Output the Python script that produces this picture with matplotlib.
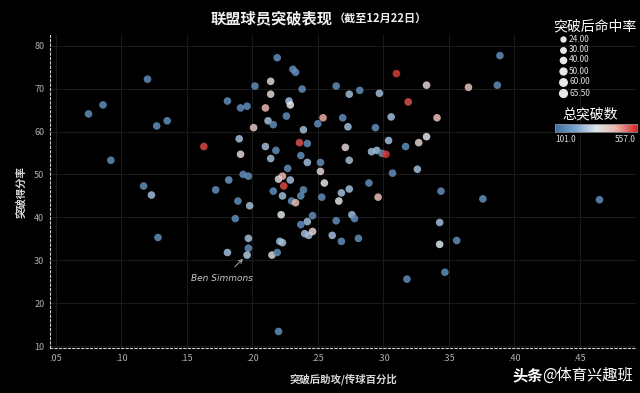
import numpy as np
import matplotlib
matplotlib.use('Agg')
import matplotlib.pyplot as plt
from matplotlib.colors import LinearSegmentedColormap, Normalize
from matplotlib.ticker import FuncFormatter

plt.rcParams['font.family']=['Noto Sans CJK SC','DejaVu Sans']

# 突破后助攻/传球百分比
ast_pct=[0.075,0.086,0.120,0.092,0.127,0.135,0.163,0.117,0.123,0.128,
         0.219,0.231,0.233,0.214,0.214,0.202,0.181,0.191,0.196,0.210,
         0.228,0.229,0.226,0.212,0.216,0.201,0.190,0.210,0.218,0.191,
         0.214,0.193,0.197,0.182,0.172,0.216,0.223,0.189,0.198,0.187,
         0.197,0.221,0.197,0.181,0.196,0.215,0.219,0.220,0.389,0.310,
         0.333,0.365,0.387,0.264,0.274,0.282,0.297,0.238,0.319,0.254,
         0.269,0.250,0.273,0.306,0.294,0.341,0.239,0.333,0.327,0.304,
         0.317,0.236,0.242,0.271,0.291,0.295,0.299,0.302,0.274,0.252,
         0.242,0.237,0.252,0.326,0.307,0.227,0.223,0.220,0.229,0.224,
         0.255,0.289,0.274,0.268,0.239,0.237,0.253,0.296,0.266,0.230,
         0.233,0.344,0.376,0.465,0.343,0.343,0.356,0.318,0.347,0.246,
         0.242,0.237,0.264,0.276,0.278,0.240,0.243,0.246,0.261,0.268,
         0.281,0.222,0.223]
# 突破得分率
pts_pct=[64.1,66.2,72.2,53.3,61.3,62.5,56.5,47.3,45.2,35.3,
         77.2,74.5,73.8,71.7,68.7,70.6,67.1,65.5,65.9,65.5,
         67.1,66.2,63.6,62.5,61.6,60.9,58.3,56.5,55.6,54.7,
         53.7,50.0,49.6,48.7,46.4,46.1,45.0,43.8,42.7,39.7,
         35.1,34.4,32.8,31.8,31.2,31.2,31.8,13.4,77.7,73.5,
         70.8,70.3,70.8,70.6,68.7,69.6,68.9,69.9,66.9,63.2,
         63.2,61.8,61.1,63.4,60.9,63.2,60.4,58.8,57.4,57.9,
         56.5,57.4,57.2,56.3,55.3,55.6,54.9,54.7,53.3,52.8,
         52.8,54.4,50.7,51.2,50.3,51.4,49.6,48.9,48.7,47.3,
         48.0,48.0,46.6,45.7,46.4,45.0,44.7,44.7,43.8,43.8,
         43.4,46.1,44.3,44.1,38.8,33.7,34.6,25.6,27.2,40.4,
         39.0,38.3,39.2,40.6,39.7,36.2,35.8,36.7,35.8,34.4,
         35.1,40.6,34.1]
drives=[170,170,170,170,170,170,530,170,260,170,
        170,170,170,370,370,170,170,170,170,430,
        260,330,170,260,170,400,260,260,170,370,
        260,170,170,190,170,170,260,170,260,170,
        260,260,170,260,280,370,170,170,170,540,
        370,410,170,170,260,170,260,170,520,450,
        170,170,260,260,170,420,260,330,380,260,
        170,520,170,370,260,260,170,540,260,170,
        260,170,370,260,170,170,430,370,260,530,
        330,170,260,260,170,170,170,420,330,170,
        420,170,170,170,260,330,170,170,170,170,
        260,170,170,260,170,260,260,370,260,170,
        170,330,260]
size_levels=[24.0,30.0,40.0,50.0,60.0,65.5]
size_labels=['24.00','30.00','40.00','50.00','60.00','65.50']
drive_min,drive_max=101.0,557.0

cmap=LinearSegmentedColormap.from_list('rb',['#3c6da3','#7aa5cc','#dde6ec','#eab4aa','#d42626'])
norm=Normalize(drive_min,drive_max)

fig=plt.figure(figsize=(6.4,3.93),dpi=100,facecolor='black')
ax=fig.add_axes([0.078,0.114,0.916,0.797])
ax.set_facecolor('black')
ax.scatter(ast_pct,pts_pct,c=drives,cmap=cmap,norm=norm,s=30,alpha=0.85,linewidths=0,zorder=3)

ax.set_xlim(0.0455,0.493)
ax.set_ylim(9.5,82.5)
ax.set_xticks([0.05,0.10,0.15,0.20,0.25,0.30,0.35,0.40,0.45])
ax.set_yticks([10,20,30,40,50,60,70,80])
ax.xaxis.set_major_formatter(FuncFormatter(lambda v,p:('%.2f'%v)[1:]))
ax.tick_params(colors='#b0b0b0',labelsize=6.5,length=0,pad=4)
ax.grid(True,color='#1a1a1a',lw=0.8,zorder=0)
for s in ['top','right']:
    ax.spines[s].set_visible(False)
for s in ['left','bottom']:
    ax.spines[s].set_color('#cfcfcf')
    ax.spines[s].set_linestyle((0,(2,2)))
    ax.spines[s].set_linewidth(0.8)

ax.set_xlabel('突破后助攻/传球百分比',color='#d8d8d8',fontsize=7.5,fontweight='bold',labelpad=8)
ax.set_ylabel('突破得分率',color='#d8d8d8',fontsize=7.5,fontweight='bold',labelpad=6)

# Ben Simmons
ax.annotate('Ben Simmons',xy=(0.196,31.2),xytext=(-18,-17),textcoords='offset points',
            ha='center',va='center',color='#c8c8c8',fontsize=6.5,style='italic',
            family=['DejaVu Sans'],
            arrowprops=dict(arrowstyle='->',color='#aaaaaa',lw=0.7,shrinkA=5,shrinkB=4))

# title
fig.text(333/640,1-18/393,'联盟球员突破表现',ha='right',va='center',color='#eeeeee',fontsize=11,fontweight='bold',style='italic')
fig.text(334/640,1-18/393,'（截至12月22日）',ha='left',va='center',color='#eeeeee',fontsize=8,fontweight='bold',style='italic')

# size legend
fig.text(595/640,1-27/393,'突破后命中率',ha='center',va='center',color='white',fontsize=10)
ys=[39,49.5,60,71,81.5,93]
for v,lab,yy in zip(size_levels,size_labels,ys):
    ms=(v/24.0)**0.9*7
    fig.add_artist(plt.Line2D([563/640],[1-yy/393],marker='o',ms=(ms**0.5)*1.35,color='#e8e8e8',lw=0,transform=fig.transFigure))
    fig.text(569/640,1-yy/393,lab,ha='left',va='center',color='#dddddd',fontsize=6)

# colour legend
fig.text(590/640,1-115/393,'总突破数',ha='center',va='center',color='white',fontsize=10)
cax=fig.add_axes([555/640,1-132/393,82/640,8/393])
cax.imshow(np.linspace(0,1,256).reshape(1,-1),aspect='auto',cmap=cmap)
cax.set_xticks([]);cax.set_yticks([])
for s in cax.spines.values():
    s.set_color('#888888');s.set_linewidth(0.6)
fig.text(555/640,1-139/393,'%.1f'%drive_min,ha='left',va='center',color='#dddddd',fontsize=6)
fig.text(636/640,1-139/393,'%.1f'%drive_max,ha='right',va='center',color='#dddddd',fontsize=6)

# watermark
fig.text(512/640,1-375/393,'头条',ha='left',va='center',color='white',fontsize=11,fontweight='bold')
fig.text(542/640,1-375/393,'@体育兴趣班',ha='left',va='center',color='white',fontsize=11)

fig.savefig('out.png',dpi=100,facecolor='black')
